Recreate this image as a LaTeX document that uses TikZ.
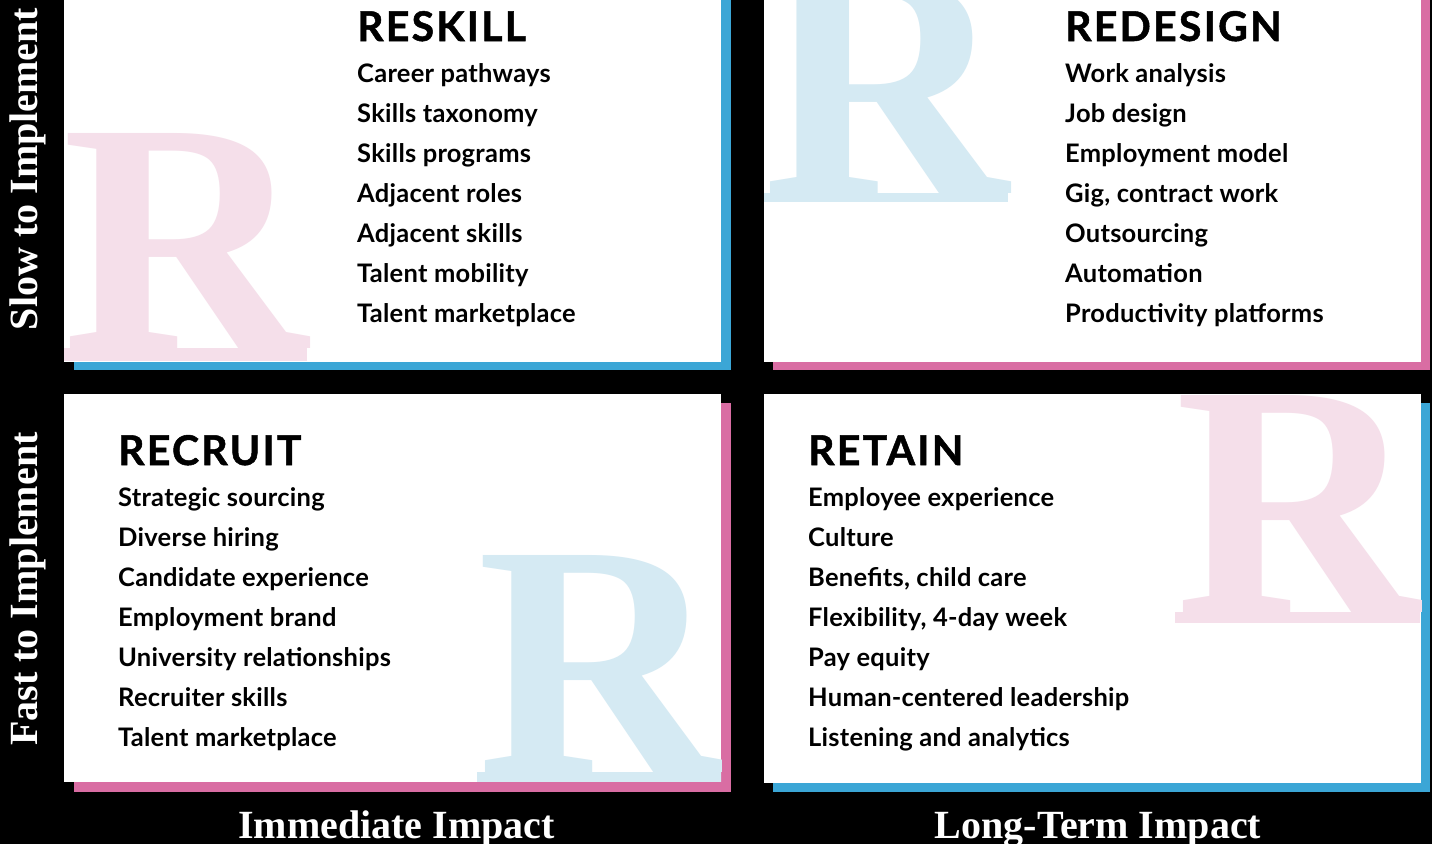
\documentclass[tikz,border=0pt]{standalone}
\usepackage{fontspec}
\setmainfont{Lato}
\newfontfamily\serifface{Liberation Serif}
\newfontfamily\titleface{Lato}[LetterSpace=5.5, FakeBold=1.2]
\newfontfamily\itemface{Lato}[LetterSpace=1]

\definecolor{barblue}{HTML}{3BA6D6}
\definecolor{barpink}{HTML}{D96DA3}
\definecolor{letterpink}{HTML}{F5DFEA}
\definecolor{letterblue}{HTML}{D5EAF3}

\begin{document}
\begin{tikzpicture}[x=1pt,y=-1pt,
  card/.style={fill=white},
  title/.style={anchor=base west, inner sep=0pt, font=\titleface\fontsize{41}{41}\selectfont\bfseries},
  item/.style={anchor=base west, inner sep=0pt, font=\itemface\fontsize{25.5}{25.5}\selectfont\bfseries},
  axislabel/.style={text=white, inner sep=0pt, anchor=base, font=\serifface\fontsize{40}{40}\selectfont\bfseries},
  bigR/.style={anchor=south west, inner sep=0pt, outer sep=0pt}]

% page
\fill[black] (0,0) rectangle (1432,844);
\useasboundingbox (0,0) rectangle (1432,844);

% offset shadows behind the cards
\fill[barblue] (74,-12) rectangle (731,370);
\fill[barpink] (773,-12) rectangle (1430,370);
\fill[barpink] (74,403) rectangle (731,792);
\fill[barblue] (773,403) rectangle (1430,792);

% cards
\fill[card] (64,-20) rectangle (721,362);
\fill[card] (764,-20) rectangle (1421,362);
\fill[card] (64,394) rectangle (721,782);
\fill[card] (764,394) rectangle (1421,783);

% large watermark letters, cut to their cards
\begin{scope}
  \clip (64,-20) rectangle (721,362);
  \node[bigR, text=letterpink] (rTL) at (62,348) {\resizebox{245pt}{215pt}{\serifface\bfseries R}};
  \fill[letterpink] (62,348) rectangle (307,361);
\end{scope}
\begin{scope}
  \clip (764,-20) rectangle (1421,362);
  \node[bigR, text=letterblue] (rTR) at (762,193) {\resizebox{246pt}{215pt}{\serifface\bfseries R}};
  \fill[letterblue] (762,193) rectangle (1008,202);
\end{scope}
\begin{scope}
  \clip (64,394) rectangle (721,782);
  \node[bigR, text=letterblue] (rBL) at (477,772) {\resizebox{245pt}{217pt}{\serifface\bfseries R}};
  \fill[letterblue] (477,772) rectangle (722,782);
\end{scope}
\begin{scope}
  \clip (764,394) rectangle (1421,783);
  \node[bigR, text=letterpink] (rBR) at (1175,612) {\resizebox{245pt}{217pt}{\serifface\bfseries R}};
  \fill[letterpink] (1175,612) rectangle (1420,623);
\end{scope}

% RESKILL
\node[title] (reskill) at (357,41) {RESKILL};
\foreach \t [count=\i from 0] in {Career pathways, Skills taxonomy, Skills programs,
    Adjacent roles, Adjacent skills, Talent mobility, Talent marketplace}
  \node[item] (reskill-\i) at (357,82+40*\i) {\t};

% REDESIGN
\node[title] (redesign) at (1065,41) {REDESIGN};
\foreach \t [count=\i from 0] in {Work analysis, Job design, Employment model,
    {Gig, contract work}, Outsourcing, Automation, Productivity platforms}
  \node[item] (redesign-\i) at (1065,82+40*\i) {\t};

% RECRUIT
\node[title] (recruit) at (118,465) {RECRUIT};
\foreach \t [count=\i from 0] in {Strategic sourcing, Diverse hiring, Candidate experience,
    Employment brand, University relationships, Recruiter skills, Talent marketplace}
  \node[item] (recruit-\i) at (118,506+40*\i) {\t};

% RETAIN
\node[title] (retain) at (808,465) {RETAIN};
\foreach \t [count=\i from 0] in {Employee experience, Culture, {Benefits, child care},
    {Flexibility, 4-day week}, Pay equity, Human-centered leadership, Listening and analytics}
  \node[item] (retain-\i) at (808,506+40*\i) {\t};

% axis labels
\node[axislabel, rotate=90] (slow) at (37,169) {Slow to Implement};
\node[axislabel, rotate=90] (fast) at (37,589) {Fast to Implement};
\node[axislabel] (immediate) at (396.5,838) {Immediate Impact};
\node[axislabel] (longterm) at (1098,838) {Long-Term Impact};
\end{tikzpicture}
\end{document}
